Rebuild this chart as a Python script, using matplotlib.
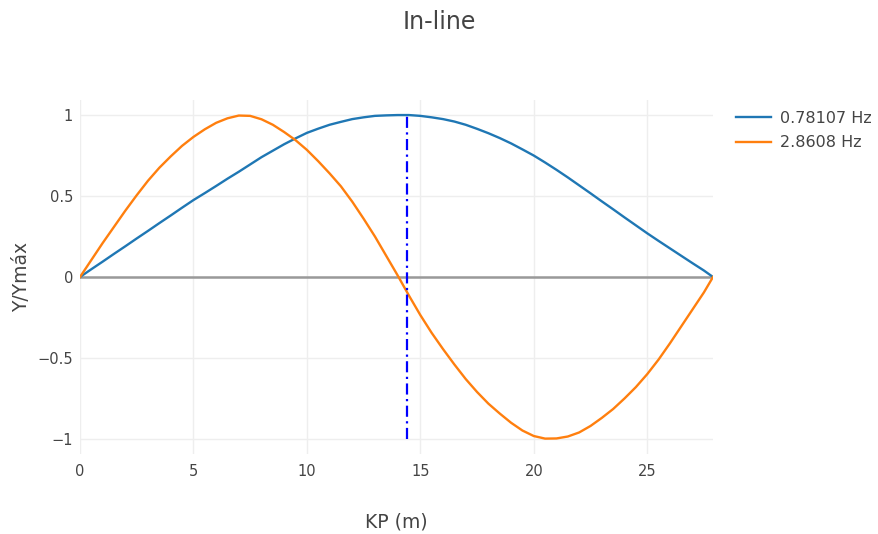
import matplotlib
matplotlib.use("Agg")
import matplotlib.pyplot as plt

# dados (KP em m, Y/Ymax)
kp = [0, 0.5, 1, 1.5, 2, 2.5, 3, 3.5, 4, 4.5, 5, 5.5, 6, 6.5, 7, 7.5, 8, 8.5,
      9, 9.5, 10, 10.5, 11, 11.5, 12, 12.5, 13, 13.5, 14, 14.5, 15, 15.5, 16,
      16.5, 17, 17.5, 18, 18.5, 19, 19.5, 20, 20.5, 21, 21.5, 22, 22.5, 23,
      23.5, 24, 24.5, 25, 25.5, 26, 26.5, 27, 27.5, 27.9]
modo1 = [0, 0.048, 0.095, 0.143, 0.19, 0.238, 0.285, 0.333, 0.38, 0.428,
         0.475, 0.518, 0.562, 0.607, 0.65, 0.695, 0.74, 0.78, 0.82, 0.856,
         0.89, 0.916, 0.94, 0.958, 0.975, 0.986, 0.995, 0.998, 1.0, 1.0,
         0.995, 0.986, 0.975, 0.96, 0.94, 0.915, 0.888, 0.858, 0.825, 0.788,
         0.75, 0.707, 0.662, 0.615, 0.566, 0.517, 0.467, 0.418, 0.368, 0.319,
         0.27, 0.223, 0.177, 0.131, 0.085, 0.04, 0]
modo2 = [0, 0.105, 0.21, 0.31, 0.41, 0.505, 0.595, 0.675, 0.745, 0.81,
         0.865, 0.912, 0.952, 0.98, 0.997, 0.995, 0.974, 0.94, 0.895, 0.845,
         0.785, 0.715, 0.64, 0.56, 0.465, 0.36, 0.25, 0.13, 0.01, -0.115,
         -0.235, -0.345, -0.445, -0.54, -0.63, -0.71, -0.782, -0.843, -0.9, -0.948,
         -0.982, -0.998, -0.997, -0.985, -0.96, -0.92, -0.87, -0.815, -0.75, -0.68,
         -0.6, -0.51, -0.41, -0.305, -0.2, -0.095, 0]
rotulos = ["0.78107 Hz", "2.8608 Hz"]
kp_max = 14.4  # posicao da linha vertical

txt = "#444444"
plt.rcParams["font.family"] = ["DejaVu Sans"]

fig = plt.figure(figsize=(8.79, 5.34), dpi=100)
ax = fig.add_axes([80/879, 1-454/534, (713-80)/879, (454-100)/534])

ax.plot(kp, modo1, color="#1f77b4", lw=1.7, label=rotulos[0], zorder=3)
ax.plot(kp, modo2, color="#ff7f0e", lw=1.7, label=rotulos[1], zorder=3)
ax.axhline(0, color="#999999", lw=1.8, zorder=2)
ax.plot([kp_max, kp_max], [-1, 1], color="#0000ff", lw=1.6,
        linestyle=(0, (5, 2, 1, 2)), zorder=4)

ax.set_xlim(0, 27.9)
ax.set_ylim(-1.093, 1.093)
ax.set_xticks([0, 5, 10, 15, 20, 25])
ax.set_yticks([-1, -0.5, 0, 0.5, 1])
ax.set_yticklabels(["\u22121", "\u22120.5", "0", "0.5", "1"])
ax.grid(color="#eeeeee", lw=1)
ax.set_axisbelow(True)
for s in ax.spines.values():
    s.set_visible(False)
ax.tick_params(length=0, labelsize=10.5, colors=txt)
ax.tick_params(axis="x", pad=7)
ax.tick_params(axis="y", pad=5)

fig.text(396.5/879, 1-522/534, "KP (m)", ha="center", va="center", fontsize=13.5, color=txt)
fig.text(22/879, 1-277/534, "Y/Ymáx", ha="center", va="center", rotation=90,
         fontsize=13.5, color=txt)
fig.text(0.5, 1-22/534, "In-line", ha="center", va="center", fontsize=17, color=txt)

leg = fig.legend(loc="upper left", bbox_to_anchor=(0.8205, 0.819), frameon=False,
                 fontsize=11.5, handlelength=2.2, handletextpad=0.6, labelspacing=0.58)
for t in leg.get_texts():
    t.set_color(txt)

fig.savefig("out.png", dpi=100)
